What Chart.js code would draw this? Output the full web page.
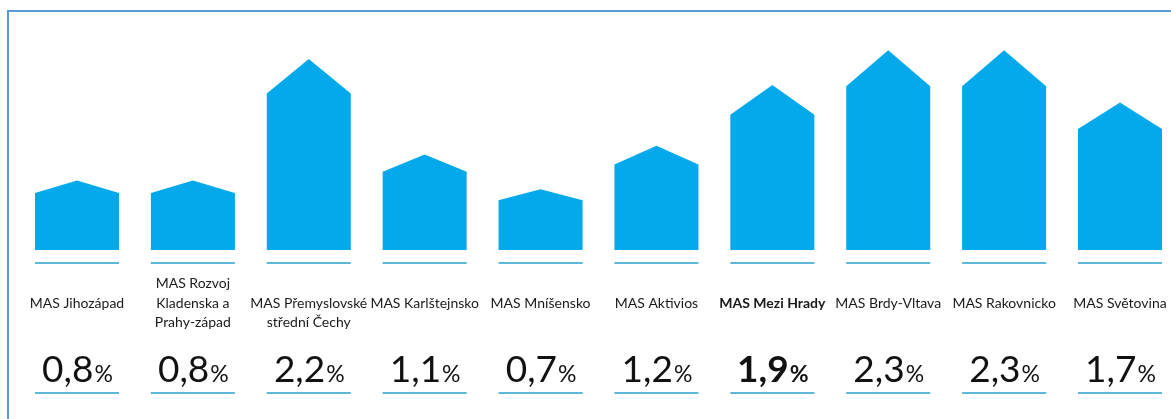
<!DOCTYPE html>
<html>
<head>
<meta charset="utf-8">
<script src="https://cdn.jsdelivr.net/npm/chart.js@4.4.1/dist/chart.umd.min.js"></script>
<style>
  html, body { margin: 0; padding: 0; background: #fff; }
  #wrap { position: relative; width: 1171px; height: 419px; overflow: hidden; }
  #frame {
    position: absolute; left: 7px; top: 10px; right: -10px; bottom: -10px;
    border-left: 2px solid #5b9bd5; border-top: 2px solid #5b9bd5;
    pointer-events: none;
  }
  canvas { position: absolute; left: 0; top: 0; }
</style>
</head>
<body>
<div id="wrap">
  <canvas id="houseChart"></canvas>
  <div id="frame"></div>
</div>
<script>
// Chart data
const categories = [
  ["MAS Jihozápad"],
  ["MAS Rozvoj", "Kladenska a", "Prahy-západ"],
  ["MAS Přemyslovské", "střední Čechy"],
  ["MAS Karlštejnsko"],
  ["MAS Mníšensko"],
  ["MAS Aktivios"],
  ["MAS Mezi Hrady"],
  ["MAS Brdy-Vltava"],
  ["MAS Rakovnicko"],
  ["MAS Světovina"],
];
const shares = [0.8, 0.8, 2.2, 1.1, 0.7, 1.2, 1.9, 2.3, 2.3, 1.7];
const highlighted = ["MAS Mezi Hrady"];

const BAR_COLOR = "#03a9eb";
const LINE_COLOR = "#5bb8d8";
const FONT = "Lato, 'Open Sans', sans-serif";

function isBold(i) {
  return highlighted.includes(categories[i][0]);
}

function formatShare(v) {
  return v.toFixed(1).replace(".", ",");
}

// Draw each bar as a house: rectangle with a roof on top
const housePlugin = {
  id: "houses",
  afterDatasetsDraw(chart) {
    const ctx = chart.ctx;
    const meta = chart.getDatasetMeta(0);
    ctx.save();
    meta.data.forEach((bar) => {
      const left = bar.x - bar.width / 2;
      const right = bar.x + bar.width / 2;
      const shoulder = bar.y + (bar.base - bar.y) * 0.18;
      ctx.fillStyle = BAR_COLOR;
      ctx.beginPath();
      ctx.moveTo(left, bar.base);
      ctx.lineTo(left, shoulder);
      ctx.lineTo(bar.x, bar.y);
      ctx.lineTo(right, shoulder);
      ctx.lineTo(right, bar.base);
      ctx.closePath();
      ctx.fill();

      // thin lines under the bar and under the value
      ctx.strokeStyle = LINE_COLOR;
      ctx.lineWidth = 2;
      [bar.base + 13, bar.base + 143].forEach((y) => {
        ctx.beginPath();
        ctx.moveTo(left, y);
        ctx.lineTo(right, y);
        ctx.stroke();
      });
    });
    ctx.restore();
  },
  afterDraw(chart) {
    const ctx = chart.ctx;
    const meta = chart.getDatasetMeta(0);
    ctx.save();
    meta.data.forEach((bar, i) => {
      const bold = isBold(i);
      // category name
      const lines = categories[i];
      const lh = 19.5;
      let y = bar.base + 53 - Math.max(0, lines.length - 2) * lh;
      ctx.fillStyle = "#1a1a1a";
      ctx.textAlign = "center";
      ctx.textBaseline = "middle";
      ctx.font = (bold ? "bold " : "") + "14px " + FONT;
      lines.forEach((line) => {
        ctx.fillText(line, bar.x, y);
        y += lh;
      });

      // value with smaller percent sign
      const num = formatShare(shares[i]);
      const numFont = (bold ? "bold " : "") + "37px " + FONT;
      const pctFont = (bold ? "bold " : "") + "23px " + FONT;
      ctx.font = numFont;
      const wNum = ctx.measureText(num).width;
      ctx.font = pctFont;
      const wPct = ctx.measureText("%").width;
      const x0 = bar.x - (wNum + wPct) / 2;
      const baseY = bar.base + 132;
      ctx.textAlign = "left";
      ctx.textBaseline = "alphabetic";
      ctx.fillStyle = "#111";
      ctx.font = numFont;
      ctx.fillText(num, x0, baseY);
      ctx.font = pctFont;
      ctx.fillText("%", x0 + wNum + 1, baseY);
    });
    ctx.restore();
  },
};

const chartCtx = document.getElementById("houseChart").getContext("2d");
const houseChart = new Chart(chartCtx, {
  type: "bar",
  data: {
    labels: categories,
    datasets: [
      {
        label: "Podíl",
        data: shares,
        backgroundColor: "rgba(0,0,0,0)",
        borderWidth: 0,
        categoryPercentage: 1,
        barPercentage: 0.725,
      },
    ],
  },
  options: {
    responsive: true,
    maintainAspectRatio: false,
    animation: false,
    layout: { padding: { left: 77, right: 51, top: 33, bottom: 169 } },
    plugins: {
      legend: { display: false },
      tooltip: { enabled: false },
    },
    scales: {
      x: { display: false, offset: false },
      y: { display: false, min: 0, max: 2.5 },
    },
  },
  plugins: [housePlugin],
});
</script>
</body>
</html>
